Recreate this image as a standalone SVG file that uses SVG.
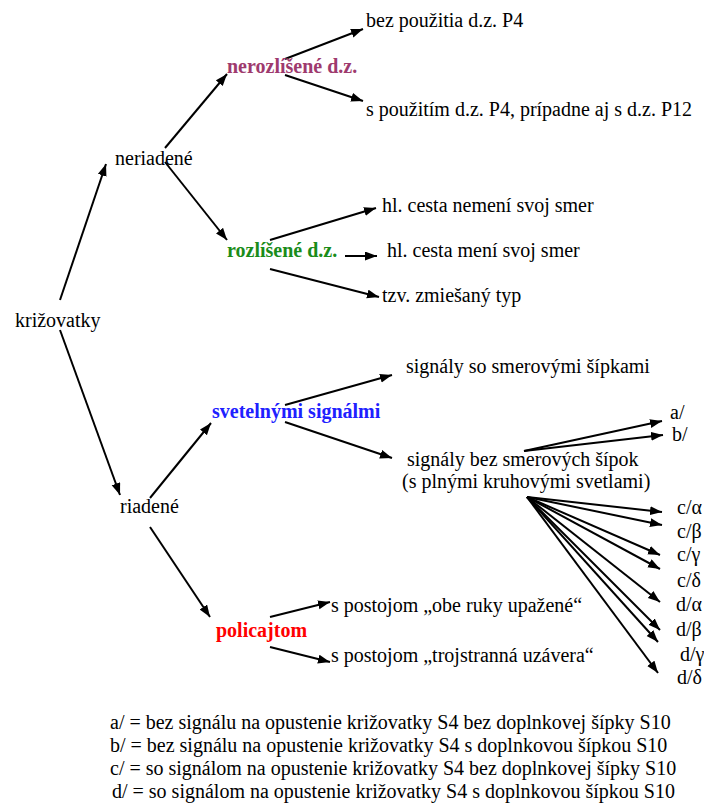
<svg xmlns="http://www.w3.org/2000/svg" width="704" height="805" viewBox="0 0 704 805">
  <style>
    text { font-family: "Liberation Serif", "Times New Roman", serif; font-size: 20px; fill: #000; }
    .b { font-weight: bold; }
    .plum { fill: #9E3A6E; }
    .green { fill: #1A8C1A; }
    .blue { fill: #2020FF; }
    .red { fill: #FF0000; }
    #connectors path { stroke: #000; stroke-width: 2; fill: none; marker-end: url(#arrow); }
  </style>
  <defs>
    <marker id="arrow" markerUnits="userSpaceOnUse" markerWidth="13" markerHeight="10" refX="12" refY="4.5" orient="auto">
      <path d="M0,0 L12,4.5 L0,9 z" fill="#000"/>
    </marker>
  </defs>
  <rect width="704" height="805" fill="#fff"/>

  <g id="connectors">
    <path d="M60,300 L106,164"/>
    <path d="M60,330 L120,495"/>
    <path d="M165,148 L227,74"/>
    <path d="M165,162 L227,240"/>
    <path d="M285,59 L363,29"/>
    <path d="M285,75 L363,101"/>
    <path d="M270,240 L376,208"/>
    <path d="M345,256 L377,256"/>
    <path d="M270,269 L379,297"/>
    <path d="M150,498 L211,423"/>
    <path d="M150,527 L210,617"/>
    <path d="M285,405 L392,375"/>
    <path d="M285,422 L392,458"/>
    <path d="M270,617 L330,602"/>
    <path d="M270,647 L330,662"/>
    <path d="M524,451 L662,421"/>
    <path d="M524,451 L663,435"/>
    <path d="M527,497 L662,512"/>
    <path d="M527,497 L662,525"/>
    <path d="M527,497 L660,555"/>
    <path d="M527,497 L660,569"/>
    <path d="M527,497 L660,602"/>
    <path d="M527,497 L660,630"/>
    <path d="M527,497 L658,642"/>
    <path d="M527,497 L658,673"/>
  </g>

  <g id="krizovatky"><text x="15" y="327">križovatky</text></g>
  <g id="neriadene"><text x="115" y="165">neriadené</text></g>
  <g id="riadene"><text x="120" y="513">riadené</text></g>

  <g id="nerozlisene"><text class="b plum" x="227" y="73">nerozlíšené d.z.</text></g>
  <g id="rozlisene"><text class="b green" x="227" y="257">rozlíšené d.z.</text></g>
  <g id="svetelnymi"><text class="b blue" x="212" y="418">svetelnými signálmi</text></g>
  <g id="policajtom"><text class="b red" x="216" y="637">policajtom</text></g>

  <g id="bez-p4"><text x="366" y="27">bez použitia d.z. P4</text></g>
  <g id="s-p4"><text x="366" y="116">s použitím d.z. P4, prípadne aj s d.z. P12</text></g>

  <g id="nemeni"><text x="382" y="212">hl. cesta nemení svoj smer</text></g>
  <g id="meni"><text x="387" y="257">hl. cesta mení svoj smer</text></g>
  <g id="zmiesany"><text x="382" y="302">tzv. zmiešaný typ</text></g>

  <g id="so-sipkami"><text x="406" y="373">signály so smerovými šípkami</text></g>
  <g id="bez-sipok">
    <text x="407" y="466">signály bez smerových šípok</text>
    <text x="402" y="488">(s plnými kruhovými svetlami)</text>
  </g>

  <g id="obe-ruky"><text x="331" y="612">s postojom „obe ruky upažené“</text></g>
  <g id="trojstranna"><text x="331" y="662">s postojom „trojstranná uzávera“</text></g>

  <g id="a"><text x="670" y="419">a/</text></g>
  <g id="b"><text x="672" y="441">b/</text></g>
  <g id="c-alpha"><text x="677" y="514">c/α</text></g>
  <g id="c-beta"><text x="677" y="538">c/β</text></g>
  <g id="c-gamma"><text x="677" y="561">c/γ</text></g>
  <g id="c-delta"><text x="677" y="587">c/δ</text></g>
  <g id="d-alpha"><text x="676" y="611">d/α</text></g>
  <g id="d-beta"><text x="676" y="636">d/β</text></g>
  <g id="d-gamma"><text x="680" y="661">d/γ</text></g>
  <g id="d-delta"><text x="677" y="684">d/δ</text></g>

  <g id="legend">
    <text x="110" y="729">a/ = bez signálu na opustenie križovatky S4 bez doplnkovej šípky S10</text>
    <text x="110" y="752">b/ = bez signálu na opustenie križovatky S4 s doplnkovou šípkou S10</text>
    <text x="110" y="775">c/ = so signálom na opustenie križovatky S4 bez doplnkovej šípky S10</text>
    <text x="112" y="798">d/ = so signálom na opustenie križovatky S4 s doplnkovou šípkou S10</text>
  </g>
</svg>
